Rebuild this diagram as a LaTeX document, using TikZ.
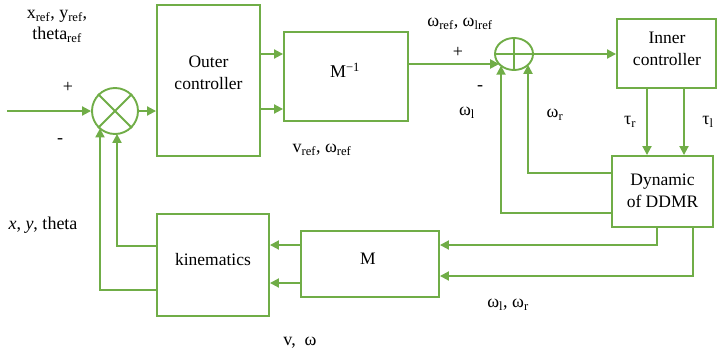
\documentclass[tikz,border=0pt]{standalone}
\usepackage{fontspec}
\setmainfont{Liberation Serif}
\usetikzlibrary{arrows.meta,calc,shapes.geometric}
\definecolor{lg}{RGB}{112,173,71}
\begin{document}
\begin{tikzpicture}[x=1pt,y=-1pt,
  blk/.style={draw=lg,line width=1.9pt,fill=white,inner sep=0pt,align=center,font=\fontsize{17}{20}\selectfont},
  arr/.style={draw=lg,line width=1.9pt,-{Triangle[length=9pt,width=9pt]}},
  ln/.style={draw=lg,line width=1.9pt},
  lbl/.style={inner sep=0pt,font=\fontsize{18}{21}\selectfont,align=center}]
\useasboundingbox (0,0) rectangle (719,356);
% blocks
\node[blk,minimum width=103pt,minimum height=151pt] (outer) at (208.5,80.5) {};
\node[lbl,font=\fontsize{17.5}{22}\selectfont] (outert) at (208.5,73) {Outer\\controller};
\node[blk,minimum width=124pt,minimum height=89pt] (minv) at (346,76.5) {};
\node[lbl,font=\fontsize{18}{20}\selectfont] (minvt) at (345,70) {M\textsuperscript{−1}};
\node[blk,minimum width=99pt,minimum height=69pt] (inner) at (666.5,53.5) {};
\node[lbl,font=\fontsize{17.5}{22}\selectfont] (innert) at (667,49) {Inner\\controller};
\node[blk,minimum width=101pt,minimum height=71pt] (ddmr) at (662.5,191.5) {};
\node[lbl,font=\fontsize{17.5}{22}\selectfont] (ddmrt) at (662.5,191) {Dynamic\\of DDMR};
\node[blk,minimum width=138pt,minimum height=66pt] (M) at (370,264) {};
\node[lbl,font=\fontsize{17.5}{20}\selectfont] (Mt) at (368,259) {M};
\node[blk,minimum width=112pt,minimum height=102pt] (kin) at (213,265) {};
\node[lbl,font=\fontsize{17.5}{20}\selectfont] (kint) at (213,260) {kinematics};
% summing junctions
\node[draw=lg,line width=1.9pt,circle,minimum size=46pt,inner sep=0pt] (sum) at (115,111) {};
\draw[ln] (sum.45) -- (sum.225) (sum.135) -- (sum.315);
\node[draw=lg,line width=1.9pt,ellipse,minimum width=38pt,minimum height=32pt,inner sep=0pt] (plus) at (514,54) {};
\draw[ln] (plus.north) -- (plus.south) (plus.west) -- (plus.east);
% connectors
\coordinate (in) at (7,111);
\draw[arr] (in) -- (sum.west);
\draw[arr] (sum.east) -- (sum.east -| outer.west);
\coordinate (m1) at ([yshift=22.5pt]minv.west);
\coordinate (m2) at ([yshift=-32.5pt]minv.west);
\draw[arr] (outer.east |- m1) -- (m1);
\draw[arr] (outer.east |- m2) -- (m2);
\coordinate (p1) at ($(plus.center)+(-14.8,10)$);
\draw[arr] (minv.east |- p1) -- (p1);
\draw[arr] (plus.east) -- (plus.east -| inner.west);
\coordinate (t1) at ([xshift=-19.5pt]inner.south);
\coordinate (t2) at ([xshift=17.5pt]inner.south);
\draw[arr] (t1) -- (t1 |- ddmr.north);
\draw[arr] (t2) -- (t2 |- ddmr.north);
\coordinate (f1) at ($(plus.center)+(-13,11.7)$);
\coordinate (f2) at ($(plus.center)+(14,10.8)$);
\draw[arr] ([yshift=18.5pt]ddmr.west) -| (f2);
\draw[arr] ([yshift=-21.5pt]ddmr.west) -| (f1);
\coordinate (mi1) at ([yshift=19pt]M.east);
\coordinate (mi2) at ([yshift=-12pt]M.east);
\draw[arr] ([xshift=-5.5pt]ddmr.south) |- (mi1);
\draw[arr] ([xshift=30.5pt]ddmr.south) |- (mi2);
\coordinate (k1) at ([yshift=20pt]kin.east);
\coordinate (k2) at ([yshift=-18pt]kin.east);
\draw[arr] (M.west |- k1) -- (k1);
\draw[arr] (M.west |- k2) -- (k2);
\coordinate (s1) at ($(sum.center)+(-15,17.4)$);
\coordinate (s2) at ($(sum.center)+(2,22.9)$);
\draw[arr] ([yshift=19pt]kin.west) -| (s2);
\draw[arr] ([yshift=-25pt]kin.west) -| (s1);
% labels
\node[lbl] (lref) at (57,26) {x\textsubscript{ref}, y\textsubscript{ref},\\theta\textsubscript{ref}};
\node[lbl] (lp1) at (68,87) {+};
\node[lbl] (lm1) at (60,141) {-};
\node[lbl] (lxyt) at (43,225) {\textit{x}, \textit{y}, theta};
\node[lbl] (lvref) at (322,150) {v\textsubscript{ref}, ω\textsubscript{ref}};
\node[lbl] (lwref) at (460,24) {ω\textsubscript{ref}, ω\textsubscript{lref}};
\node[lbl] (lp2) at (458,52) {+};
\node[lbl] (lm2) at (480,88) {-};
\node[lbl] (lwl) at (467,113) {ω\textsubscript{l}};
\node[lbl] (lwr) at (555,115) {ω\textsubscript{r}};
\node[lbl] (ltr) at (630,122) {τ\textsubscript{r}};
\node[lbl] (ltl) at (708,122) {τ\textsubscript{l}};
\node[lbl] (lwlr) at (508,305) {ω\textsubscript{l}, ω\textsubscript{r}};
\node[lbl] (lvw) at (300,343) {v,\ \ ω};
\end{tikzpicture}
\end{document}
